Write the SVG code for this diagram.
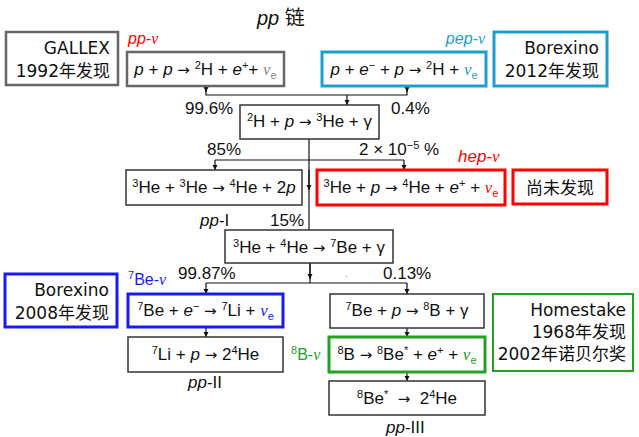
<svg xmlns="http://www.w3.org/2000/svg" width="639" height="437" viewBox="0 0 639 437">
<defs>
<style>
.f{font-family:"Liberation Sans","DejaVu Sans",sans-serif;font-size:17px;fill:#111}
.cn{font-family:"DejaVu Sans","Noto Sans CJK SC",sans-serif;font-size:17px;fill:#111}
.lb{font-family:"Liberation Sans","DejaVu Sans",sans-serif;font-size:16px}
.i{font-style:italic}
.nu{font-family:"Liberation Serif",serif;font-style:italic}
.ar{font-family:"DejaVu Sans",sans-serif;font-size:15px}
.sup{font-size:11px}
.box{fill:#fff;stroke:#333;stroke-width:1.5}
.gray{stroke:#666;stroke-width:2.5}
.cyan{stroke:#1a9fd0;stroke-width:3}
.red{stroke:#ff0000;stroke-width:3}
.blue{stroke:#1a1aee;stroke-width:3}
.green{stroke:#22a122;stroke-width:2}
.green3{stroke:#22a122;stroke-width:3}
.ln{fill:none;stroke:#111;stroke-width:1.2}
</style>
<marker id="ah" markerUnits="userSpaceOnUse" markerWidth="6" markerHeight="6" refX="5" refY="3" orient="auto">
<path d="M0,0.5 L5,3 L0,5.5 Z" fill="#111"/>
</marker>
</defs>

<text x="257" y="25" class="f" style="font-size:20px"><tspan class="i">pp</tspan> <tspan style="font-family:'Noto Sans CJK SC',sans-serif">链</tspan></text>

<g id="connectors">
<path class="ln" d="M206,86 V95 H407 V86"/>
<path class="ln" d="M206,86 V92" marker-end="url(#ah)"/>
<path class="ln" d="M407,86 V92" marker-end="url(#ah)"/>
<path class="ln" d="M347,95 V105" marker-end="url(#ah)"/>
<path class="ln" d="M309,139 V230"/>
<path class="ln" d="M309,170 V190" marker-end="url(#ah)"/>
<path class="ln" d="M215,160 H404"/>
<path class="ln" d="M215,160 V170" marker-end="url(#ah)"/>
<path class="ln" d="M404,160 V170" marker-end="url(#ah)"/>
<path class="ln" d="M310,263 V283"/>
<path class="ln" d="M310,263 V279" marker-end="url(#ah)"/>
<path class="ln" d="M206,283 H407"/>
<path class="ln" d="M206,283 V294" marker-end="url(#ah)"/>
<path class="ln" d="M407,283 V294" marker-end="url(#ah)"/>
<path class="ln" d="M206,327 V337" marker-end="url(#ah)"/>
<path class="ln" d="M407,328 V337" marker-end="url(#ah)"/>
<path class="ln" d="M407,372 V381" marker-end="url(#ah)"/>
</g>
<rect x="346" y="276" width="1" height="1" fill="#777"/>

<g id="gallex">
<rect x="6" y="32" width="112" height="53" class="box gray"/>
<text x="110" y="54" text-anchor="end" class="cn">GALLEX</text>
<text x="110" y="77" text-anchor="end" class="cn">1992年发现</text>
</g>

<g id="pp">
<text x="128" y="44" class="lb i" fill="#ff0000">pp-<tspan class="nu">ν</tspan></text>
<rect x="127" y="52" width="157" height="34" class="box gray"/>
<text x="205.5" y="75" text-anchor="middle" class="f"><tspan class="i">p</tspan> + <tspan class="i">p</tspan> <tspan class="ar">→</tspan> <tspan class="sup" dy="-6">2</tspan><tspan dy="6">H + </tspan><tspan class="i">e</tspan><tspan class="sup" dy="-6">+</tspan><tspan dy="6">+ </tspan><tspan class="nu" fill="#888">ν</tspan><tspan class="sup" dy="4" fill="#888">e</tspan></text>
</g>

<g id="pep">
<text x="485" y="44" text-anchor="end" class="lb i" fill="#1a9fd0">pep-<tspan class="nu">ν</tspan></text>
<rect x="322" y="52" width="164" height="34" class="box cyan"/>
<text x="404" y="75" text-anchor="middle" class="f"><tspan class="i">p</tspan> + <tspan class="i">e</tspan><tspan class="sup" dy="-6">−</tspan><tspan dy="6"> + </tspan><tspan class="i">p</tspan> <tspan class="ar">→</tspan> <tspan class="sup" dy="-6">2</tspan><tspan dy="6">H + </tspan><tspan class="nu" fill="#1a9fd0">ν</tspan><tspan class="sup" dy="4" fill="#1a9fd0">e</tspan></text>
</g>

<g id="borexino2012">
<rect x="494" y="32" width="113" height="54" class="box cyan"/>
<text x="599" y="54" text-anchor="end" class="cn">Borexino</text>
<text x="599" y="77" text-anchor="end" class="cn">2012年发现</text>
</g>

<g id="labels">
<text x="185" y="114" class="f">99.6%</text>
<text x="391" y="114" class="f">0.4%</text>
<text x="207" y="155" class="f">85%</text>
<text x="359" y="155" class="f">2 × 10<tspan class="sup" dy="-6">−5</tspan><tspan dy="6"> %</tspan></text>
<text x="200" y="226" class="f"><tspan class="i">pp</tspan>-I</text>
<text x="270" y="226" class="f">15%</text>
<text x="178" y="279" class="f">99.87%</text>
<text x="383" y="279" class="f">0.13%</text>
<text x="188" y="388" class="f"><tspan class="i">pp</tspan>-II</text>
<text x="386" y="433" class="f"><tspan class="i">pp</tspan>-III</text>
</g>

<g id="d-p">
<rect x="240" y="105" width="139" height="34" class="box"/>
<text x="309.5" y="127" text-anchor="middle" class="f"><tspan class="sup" dy="-6">2</tspan><tspan dy="6">H + </tspan><tspan class="i">p</tspan> <tspan class="ar">→</tspan> <tspan class="sup" dy="-6">3</tspan><tspan dy="6">He + γ</tspan></text>
</g>

<g id="he3he3">
<rect x="126" y="170" width="176" height="35" class="box"/>
<text x="214" y="193" text-anchor="middle" class="f"><tspan class="sup" dy="-6">3</tspan><tspan dy="6">He + </tspan><tspan class="sup" dy="-6">3</tspan><tspan dy="6">He </tspan><tspan class="ar">→</tspan> <tspan class="sup" dy="-6">4</tspan><tspan dy="6">He + 2</tspan><tspan class="i">p</tspan></text>
</g>

<g id="hep">
<text x="458" y="162" class="lb i" fill="#ff0000" style="font-size:17px">hep-<tspan class="nu">ν</tspan></text>
<rect x="317" y="170" width="188" height="35" class="box red"/>
<text x="411" y="193" text-anchor="middle" class="f"><tspan class="sup" dy="-6">3</tspan><tspan dy="6">He + </tspan><tspan class="i">p</tspan> <tspan class="ar">→</tspan> <tspan class="sup" dy="-6">4</tspan><tspan dy="6">He + </tspan><tspan class="i">e</tspan><tspan class="sup" dy="-6">+</tspan><tspan dy="6"> + </tspan><tspan class="nu" fill="#ff0000">ν</tspan><tspan class="sup" dy="4" fill="#ff0000">e</tspan></text>
</g>

<g id="notfound">
<rect x="513" y="170" width="94" height="34" class="box red"/>
<text x="560" y="194" text-anchor="middle" class="cn">尚未发现</text>
</g>

<g id="he3he4">
<rect x="225" y="230" width="168" height="33" class="box"/>
<text x="309" y="253" text-anchor="middle" class="f"><tspan class="sup" dy="-6">3</tspan><tspan dy="6">He + </tspan><tspan class="sup" dy="-6">4</tspan><tspan dy="6">He </tspan><tspan class="ar">→</tspan> <tspan class="sup" dy="-6">7</tspan><tspan dy="6">Be + γ</tspan></text>
</g>

<g id="borexino2008">
<rect x="5" y="274" width="112" height="53" class="box blue"/>
<text x="109" y="296" text-anchor="end" class="cn">Borexino</text>
<text x="109" y="319" text-anchor="end" class="cn">2008年发现</text>
</g>

<g id="be7e">
<text x="128" y="285" class="lb" fill="#1a1aee"><tspan class="sup" dy="-6">7</tspan><tspan dy="6">Be-</tspan><tspan class="nu">ν</tspan></text>
<rect x="128" y="294" width="155" height="33" class="box blue"/>
<text x="205.5" y="316" text-anchor="middle" class="f"><tspan class="sup" dy="-6">7</tspan><tspan dy="6">Be + </tspan><tspan class="i">e</tspan><tspan class="sup" dy="-6">−</tspan><tspan dy="6"> </tspan><tspan class="ar">→</tspan> <tspan class="sup" dy="-6">7</tspan><tspan dy="6">Li + </tspan><tspan class="nu" fill="#1a1aee">ν</tspan><tspan class="sup" dy="4" fill="#1a1aee">e</tspan></text>
</g>

<g id="be7p">
<rect x="330" y="294" width="154" height="34" class="box"/>
<text x="407" y="316" text-anchor="middle" class="f"><tspan class="sup" dy="-6">7</tspan><tspan dy="6">Be + </tspan><tspan class="i">p</tspan> <tspan class="ar">→</tspan> <tspan class="sup" dy="-6">8</tspan><tspan dy="6">B + γ</tspan></text>
</g>

<g id="homestake">
<rect x="493" y="294" width="140" height="77" class="box green"/>
<text x="626" y="316" text-anchor="end" class="cn">Homestake</text>
<text x="626" y="338" text-anchor="end" class="cn">1968年发现</text>
<text x="626" y="360" text-anchor="end" class="cn">2002年诺贝尔奖</text>
</g>

<g id="li7p">
<rect x="128" y="337" width="155" height="35" class="box"/>
<text x="205.5" y="360" text-anchor="middle" class="f"><tspan class="sup" dy="-6">7</tspan><tspan dy="6">Li + </tspan><tspan class="i">p</tspan> <tspan class="ar">→</tspan> 2<tspan class="sup" dy="-6">4</tspan><tspan dy="6">He</tspan></text>
</g>

<g id="b8">
<text x="291" y="360" class="lb" fill="#22a122"><tspan class="sup" dy="-6">8</tspan><tspan dy="6">B-</tspan><tspan class="nu">ν</tspan></text>
<rect x="329" y="337" width="156" height="35" class="box green3"/>
<text x="407" y="360" text-anchor="middle" class="f"><tspan class="sup" dy="-6">8</tspan><tspan dy="6">B </tspan><tspan class="ar">→</tspan> <tspan class="sup" dy="-6">8</tspan><tspan dy="6">Be</tspan><tspan class="sup" dy="-6">*</tspan><tspan dy="6"> + </tspan><tspan class="i">e</tspan><tspan class="sup" dy="-6">+</tspan><tspan dy="6"> + </tspan><tspan class="nu" fill="#22a122">ν</tspan><tspan class="sup" dy="4" fill="#22a122">e</tspan></text>
</g>

<g id="be8">
<rect x="329" y="381" width="156" height="34" class="box"/>
<text x="407" y="404" text-anchor="middle" class="f" xml:space="preserve"><tspan class="sup" dy="-6">8</tspan><tspan dy="6">Be</tspan><tspan class="sup" dy="-6">*</tspan><tspan dy="6">  </tspan><tspan class="ar">→</tspan><tspan>  2</tspan><tspan class="sup" dy="-6">4</tspan><tspan dy="6">He</tspan></text>
</g>
</svg>
